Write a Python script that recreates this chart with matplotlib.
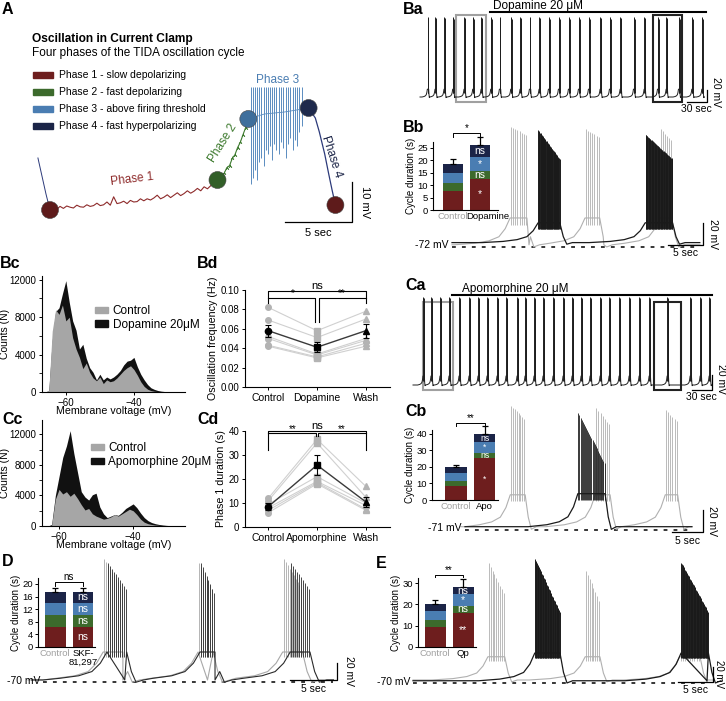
import numpy as np
import matplotlib
matplotlib.use('Agg')
import matplotlib.pyplot as plt
from matplotlib.patches import Patch, Rectangle
from matplotlib.ticker import FormatStrFormatter, MultipleLocator

plt.rcParams['font.family'] = ['Liberation Sans', 'DejaVu Sans']
plt.rcParams['font.size'] = 7.5
plt.rcParams['axes.linewidth'] = 0.8
plt.rcParams['xtick.major.size'] = 2.5
plt.rcParams['ytick.major.size'] = 2.5
plt.rcParams['xtick.major.width'] = 0.7
plt.rcParams['ytick.major.width'] = 0.7
plt.rcParams['xtick.major.pad'] = 1.5
plt.rcParams['ytick.major.pad'] = 1.5

# ---------------- data ----------------
PHASE_LABELS = ['Phase 1 - slow depolarizing', 'Phase 2 - fast depolarizing',
                'Phase 3 - above firing threshold', 'Phase 4 - fast hyperpolarizing']
PHASE_COLORS = ['#6e1e1e', '#3c6a2c', '#4a7db2', '#1b2447']
DOT_COLORS = ['#5e1b1b', '#325f28', '#3f6f9c', '#1f2a4c', '#5e1b1b']

# panel A: one oscillation cycle (s, mV above the trough)
PRE_T = [-0.9, -0.6, -0.3, 0.0]
PRE_V = [13.0, 8.5, 4.0, 0.0]
P1_V = [0.0, 0.5, 0.2, 0.9, 0.4, 1.0, 0.7, 0.5, 1.2, 0.8,
        0.7, 1.3, 0.9, 1.1, 1.7, 1.1, 1.3, 2.0, 1.2, 3.3,
        1.6, 1.8, 2.2, 1.6, 2.4, 2.0, 2.1, 2.8, 2.3, 2.8,
        2.5, 3.0, 3.7, 2.8, 3.2, 3.8, 3.1, 3.7, 4.3, 3.6,
        4.1, 4.8, 4.2, 4.7, 5.4, 4.8, 5.8, 5.3, 6.1, 6.8, 7.5]
P2_T = [12.5, 12.75, 13.0, 13.2, 13.4, 13.6, 13.8, 14.0, 14.2, 14.4, 14.6, 14.8]
P2_V = [7.5, 8.8, 9.2, 10.6, 11.1, 12.9, 13.8, 15.6, 16.9, 18.8, 20.6, 22.75]
P3_SPIKE_T = [15.0, 15.15, 15.3, 15.45, 15.6, 15.75, 15.95, 16.1, 16.25, 16.4, 16.6, 16.75,
              16.9, 17.1, 17.25, 17.4, 17.6, 17.75, 17.9, 18.1, 18.25, 18.45, 18.6, 18.8]
P3_TROUGH = [6.5, 8, 10, 7.5, 12, 13, 11, 15, 14, 16, 12.5, 16.5,
             15, 14, 17, 15.5, 13, 16.5, 18, 15, 17.5, 16, 19.5, 21]
P3_PEAK = 30.75
P3_BASE_T = [14.8, 16.0, 17.5, 19.3]
P3_BASE_V = [22.75, 24.0, 24.5, 25.5]
P4_T = [19.3, 19.8, 20.1, 20.5, 20.8, 21.05, 21.3]
P4_V = [25.5, 23.0, 19.5, 14.0, 9.0, 5.0, 1.25]
DOT_T = [0.0, 12.5, 14.8, 19.3, 21.3]
DOT_V = [0.0, 7.5, 22.75, 25.5, 1.25]

# Bc / Cc histograms (membrane voltage mV, counts)
BC_MV = list(range(-67, -24))
BC_CTRL = [0, 0, 200, 6500, 8800, 8300, 9300, 7600, 8000, 5800,
           4600, 3700, 2500, 3100, 2100, 1500, 1200, 1600, 900, 1300,
           1100, 1200, 1500, 1900, 2300, 2600, 2800, 2400, 1800, 1100,
           600, 300, 150, 80, 40, 20, 10, 0, 0, 0, 0, 0, 0]
BC_DA = [0, 0, 150, 5500, 8600, 9000, 10500, 11900, 9600, 7600,
         6600, 4600, 5100, 3600, 2600, 2100, 1300, 1900, 1300, 1600,
         1400, 1600, 1900, 2300, 2900, 3300, 3400, 3700, 2700, 1900,
         1300, 800, 450, 280, 160, 90, 50, 25, 10, 0, 0, 0, 0]
CC_MV = list(range(-65, -25))
CC_CTRL = [0, 0, 0, 100, 3500, 4800, 4200, 4500, 3900, 4300,
           3600, 2800, 2100, 2300, 1600, 1300, 1100, 900, 1000, 1200,
           1500, 1300, 1600, 1900, 2200, 2000, 1500, 900, 500, 300,
           200, 120, 80, 50, 30, 20, 10, 0, 0, 0]
CC_APO = [0, 0, 0, 200, 4000, 6500, 9000, 10500, 12500, 9500,
          7000, 4500, 3800, 3400, 4100, 4300, 2500, 1600, 1100, 1300,
          1500, 1400, 1800, 2300, 2600, 2900, 2400, 1700, 1100, 700,
          450, 300, 200, 130, 80, 50, 30, 15, 5, 0]

# Bd: oscillation frequency (Hz), six cells
BD_CATS = ['Control', 'Dopamine', 'Wash']
BD_CTRL = [0.082, 0.069, 0.052, 0.050, 0.043, 0.042]
BD_DA = [0.058, 0.051, 0.034, 0.033, 0.031, 0.030]
BD_WASH = [0.078, 0.070, 0.050, 0.048, 0.045, 0.042]
BD_MEAN = [0.058, 0.041, 0.058]
BD_SEM = [0.006, 0.005, 0.007]

# Cd: phase 1 duration (s)
CD_CATS = ['Control', 'Apomorphine', 'Wash']
CD_CTRL = [12.0, 11.0, 9.5, 8.0, 7.0, 6.0]
CD_APO = [36.5, 35.0, 21.0, 19.0, 18.5, 18.0]
CD_WASH = [17.0, 12.5, 10.0, 9.0, 7.5, 7.0]
CD_MEAN = [8.5, 25.8, 10.5]
CD_SEM = [1.5, 4.0, 2.0]

# stacked cycle durations (phase 1..4, s)
BB_CTRL = [7.7, 3.1, 4.0, 3.6]
BB_DRUG = [12.5, 3.2, 5.8, 4.7]
BB_ERR = [2.2, 3.3]
BB_MARKS = ['*', 'ns', '*', 'ns']
CB_CTRL = [8.5, 3.0, 5.1, 3.2]
CB_DRUG = [25.3, 3.4, 6.3, 5.0]
CB_ERR = [1.4, 4.8]
CB_MARKS = ['*', 'ns', '*', 'ns']
D_CTRL = [6.4, 3.8, 3.9, 3.5]
D_DRUG = [6.5, 3.7, 3.9, 3.5]
D_ERR = [1.1, 1.1]
D_MARKS = ['ns', 'ns', 'ns', 'ns']
E_CTRL = [9.2, 3.5, 4.2, 3.1]
E_DRUG = [16.1, 3.1, 5.5, 3.6]
E_ERR = [2.0, 3.5]
E_MARKS = ['**', 'ns', '*', 'ns']

# long recordings: burst onsets (s)
BA_BURSTS = [11, 22.5, 36, 49, 66, 79, 91.5, 106, 119, 136, 150, 164, 178.5, 192.5,
             207.5, 222.5, 237.5, 252.5, 270, 284, 300, 320, 336, 356, 369, 387.5, 407.5, 422.5]
CA_BURSTS = [15, 27, 40.5, 54, 69, 84, 97.5, 111, 126, 139.5, 156, 168, 181.5, 195,
             210, 225, 238.5, 252, 265.5, 280.5, 294, 309, 324, 339, 354, 381, 415.5, 430.5, 444]

# overlaid traces: (onset s, duration s, spikes, first peak mV, last peak mV)
BB_GRAY = [(8.3, 2.4, 8, 37, 30), (19.0, 2.1, 7, 35, 28), (29.7, 1.7, 6, 35, 25)]
BB_BLACK = [(12.3, 3.1, 40, 34, 8), (27.6, 3.9, 45, 30, 8)]
CB_GRAY = [(7.3, 2.4, 8, 42, 30), (21.0, 2.4, 7, 40, 25), (32.3, 2.0, 6, 38, 28)]
CB_BLACK = [(18.2, 4.4, 25, 35, -10)]
D_GRAY = [(6.4, 2.1, 10, 75, 40), (16.5, 1.6, 8, 70, 40), (25.5, 2.1, 10, 75, 40)]
D_BLACK = [(6.8, 2.1, 10, 70, 40), (16.7, 1.6, 8, 70, 35), (26.3, 2.1, 10, 70, 40)]
E_GRAY = [(10.7, 2.4, 9, 90, 50), (24.6, 2.1, 8, 80, 40), (38.1, 2.9, 9, 85, 45)]
E_BLACK = [(17.4, 3.6, 40, 95, 25), (38.3, 3.9, 45, 90, 25)]

# shape of one depolarization (fraction of plateau height)
RAMP_T = [-8.0, -5.0, -3.0, -1.6, -0.7, 0.0]
RAMP_F = [0.0, 0.06, 0.15, 0.3, 0.6, 1.0]
FALL_T = [0.0, 0.5, 1.0, 1.8]
FALL_F = [1.0, 0.3, -0.08, 0.0]

# ---------------- figure ----------------
W, H = 726, 701
fig = plt.figure(figsize=(W / 100, H / 100), dpi=100)


def px_axes(x0, y0, x1, y1):
    return fig.add_axes([x0 / W, 1 - y1 / H, (x1 - x0) / W, (y1 - y0) / H])


def ftext(x, y, s, **kw):
    fig.text(x / W, 1 - y / H, s, **kw)


def panel_label(x, y, s):
    ftext(x, y, s, fontsize=11.5, fontweight='bold', ha='left', va='center')


def blank(ax):
    ax.set_axis_off()


def trace(ax, t_end, bursts, base, plat, color, lw=0.7, slw=0.5):
    ts, vs = [0.0], [base]
    st, slo, shi = [], [], []
    for on, dur, n, pk0, pk1 in bursts:
        for rt, rf in zip(RAMP_T, RAMP_F):
            ts.append(on + rt)
            vs.append(base + rf * (plat - base))
        for ft, ff in zip(FALL_T, FALL_F):
            ts.append(on + dur + ft)
            vs.append(base + ff * (plat - base))
        k = np.arange(n)
        st += list(on + dur * (k + 0.5) / n)
        shi += list(np.linspace(pk0, pk1, n))
        slo += [plat - 6] * n
    ts.append(t_end)
    vs.append(base)
    ts, vs = np.array(ts), np.array(vs)
    order = np.argsort(ts, kind='stable')
    ax.plot(ts[order], vs[order], color=color, lw=lw)
    ax.vlines(st, slo, shi, color=color, lw=slw)


def scale_bar(ax, x1, y0, dx, dy):
    ax.plot([x1 - dx, x1, x1], [y0, y0, y0 + dy], color='black', lw=0.9, clip_on=False)


def stacked_inset(ax, ctrl, drug, errs, marks, xlabels, ylim, yticks, sig, sig_y, leg,
                  drug_dx=0.0, mark_size=7.5):
    for i, segs in enumerate([ctrl, drug]):
        bottom = 0
        for seg, c in zip(segs, PHASE_COLORS):
            ax.bar(i, seg, 0.75, bottom=bottom, color=c, lw=0)
            bottom += seg
        ax.errorbar(i, bottom, yerr=[[0], [errs[i]]], color='black', lw=0.9,
                    capsize=2, capthick=0.9, clip_on=False)
    bottom = 0
    for seg, m in zip(drug, marks):
        ax.text(1, bottom + seg / 2, m, color='white', ha='center', va='center', fontsize=mark_size)
        bottom += seg
    ax.plot([0, 0, 1, 1], [sig_y - leg, sig_y, sig_y, sig_y - leg], color='black', lw=0.7,
            clip_on=False)
    ax.text(0.5, sig_y, sig, ha='center', va='bottom', fontsize=7)
    ax.set_ylim(ylim)
    ax.set_yticks(yticks)
    ax.tick_params(axis='y', labelsize=6.8, length=2)
    ax.set_xticks([])
    tr = ax.get_xaxis_transform()
    ax.text(0, -0.03, xlabels[0], transform=tr, ha='center', va='top', fontsize=6.8, color='#a0a0a0')
    ax.text(1 + drug_dx, -0.03, xlabels[1], transform=tr, ha='center', va='top', fontsize=6.8,
            linespacing=1.0)
    ax.spines['top'].set_visible(False)
    ax.spines['right'].set_visible(False)
    ax.set_ylabel('Cycle duration (s)', fontsize=7, labelpad=1)
    ax.set_facecolor('none')


# ---------- A ----------
panel_label(2, 9, 'A')
ftext(32, 39, 'Oscillation in Current Clamp', fontsize=8.6, fontweight='bold', va='center')
ftext(32, 53, 'Four phases of the TIDA oscillation cycle', fontsize=8.5, va='center')
axA = px_axes(15, 75, 365, 232)
blank(axA)
axA.set_xlim((15 - 50) / 13.4, (365 - 50) / 13.4)
axA.set_ylim((210 - 232) / 4, (210 - 75) / 4)
axA.plot(PRE_T, PRE_V, color='#2c3a7a', lw=0.7)
axA.plot(np.linspace(0, 12.5, len(P1_V)), P1_V, color='#8e2b2b', lw=0.8)
axA.plot(P2_T, P2_V, color='#3d7a2e', lw=0.8, marker=(3, 2, 0), markersize=2.5, markeredgewidth=0.5)
axA.plot(P3_BASE_T, P3_BASE_V, color='#5a8cc0', lw=0.6)
axA.vlines(P3_SPIKE_T, P3_TROUGH, P3_PEAK, color='#5a8cc0', lw=0.7)
axA.plot(P4_T, P4_V, color='#2c3a7a', lw=0.9)
axA.scatter(DOT_T, DOT_V, s=150, c=DOT_COLORS, edgecolors='#444', linewidths=0.4, zorder=5)
axA.text(6.1, 7.6, 'Phase 1', color='#8e2b2b', fontsize=8.5, rotation=7, ha='center', va='center')
axA.text(12.9, 16.8, 'Phase 2', color='#3d7a2e', fontsize=8.5, rotation=58, ha='center', va='center')
axA.text(17.0, 32.4, 'Phase 3', color='#4a7db2', fontsize=8.5, ha='center', va='center')
axA.text(21.0, 13.3, 'Phase 4', color='#1b2447', fontsize=8.5, rotation=-72, ha='center', va='center')
scale_bar(axA, 22.5, -3.0, 5, 10)
axA.text(20.0, -4.5, '5 sec', fontsize=8, ha='center', va='top')
axA.text(23.1, 2.0, '10 mV', fontsize=8, rotation=270, ha='left', va='center')
for i, (lab, c) in enumerate(zip(PHASE_LABELS, PHASE_COLORS)):
    yy = 75 + i * 17
    fig.patches.append(Rectangle((33 / W, 1 - (yy + 3) / H), 20 / W, 6 / H, color=c,
                                 transform=fig.transFigure))
    ftext(59, yy, lab, fontsize=7.5, va='center')

# ---------- Ba ----------
panel_label(403, 9, 'Ba')
axBa = px_axes(418, 5, 718, 110)
blank(axBa)
axBa.set_xlim((418 - 420) / 0.667, (718 - 420) / 0.667)
axBa.set_ylim(-70 - (110 - 97) / 0.6, -70 + (97 - 5) / 0.6)
trace(axBa, (704 - 420) / 0.667, [(b, 2.0, 3, 63, 60) for b in BA_BURSTS], -70, -57, '#1e1e1e', lw=0.7, slw=0.7)
axBa.plot([105, 429], [71.7, 71.7], color='black', lw=1.5)
axBa.text(110, 81.0, 'Dopamine 20 μM', fontsize=8.5, ha='left', va='center')
axBa.add_patch(Rectangle((54, -78.3), 45, 145, fill=False, edgecolor='#a0a0a0', lw=1.5))
axBa.add_patch(Rectangle((349.5, -78.3), 43.5, 145, fill=False, edgecolor='#222', lw=1.5))
scale_bar(axBa, 430, -78.3, 30, 20)
axBa.text(415, -81, '30 sec', fontsize=7.5, ha='center', va='top')
axBa.text(437, -62, '20 mV', fontsize=7.5, rotation=270, ha='left', va='center')

# ---------- Bb ----------
panel_label(403, 127, 'Bb')
axBbt = px_axes(418, 118, 718, 262)
blank(axBbt)
axBbt.set_xlim((418 - 452) / 7, (718 - 452) / 7)
axBbt.set_ylim(-72 - (262 - 247) / 1.1, -72 + (247 - 118) / 1.1)
axBbt.plot([0, 35.4], [-72, -72], color='black', lw=1.1, ls=(0, (2.5, 4)))
trace(axBbt, 35.4, BB_GRAY, -70, -45.6, '#b0b0b0', lw=0.8, slw=0.6)
trace(axBbt, 35.4, BB_BLACK, -68, -50, '#1a1a1a', lw=0.9, slw=0.7)
axBbt.text(-0.5, -70.5, '-72 mV', fontsize=7.5, ha='right', va='center')
scale_bar(axBbt, 35.9, -70, 5, 20)
axBbt.text(33.4, -73, '5 sec', fontsize=7.5, ha='center', va='top')
axBbt.text(36.6, -60, '20 mV', fontsize=7.5, rotation=270, ha='left', va='center')
axBb = px_axes(433, 142, 498, 210)
axBb.set_xlim(-0.74, 1.67)
stacked_inset(axBb, BB_CTRL, BB_DRUG, BB_ERR, BB_MARKS, ['Control', 'Dopamine'],
              (0, 27.4), [0, 5, 10, 15, 20, 25], '*', 31.0, 1.6, drug_dx=0.3)

# ---------- Bc ----------
panel_label(0, 263, 'Bc')
axBc = px_axes(42, 276, 185, 392)
axBc.fill_between(BC_MV, 0, BC_DA, color='#111111', lw=0)
axBc.fill_between(BC_MV, 0, BC_CTRL, color='#a6a6a6', lw=0)
axBc.set_xlim(-67, -25)
axBc.set_ylim(0, 12400)
axBc.set_yticks([0, 4000, 8000, 12000])
axBc.yaxis.set_minor_locator(MultipleLocator(2000))
axBc.set_xticks([-60, -40])
axBc.tick_params(labelsize=7)
axBc.set_xlabel('Membrane voltage (mV)', fontsize=7.7, labelpad=-1)
axBc.set_ylabel('Counts (N)', fontsize=7.5, labelpad=0)
axBc.spines['top'].set_visible(False)
axBc.spines['right'].set_visible(False)
axBc.legend([Patch(color='#a6a6a6'), Patch(color='#111111')], ['Control', 'Dopamine 20μM'],
            loc='upper left', bbox_to_anchor=(0.37, 0.75), frameon=False, fontsize=8.5,
            handlelength=1.1, handleheight=0.45, labelspacing=0.15, handletextpad=0.4,
            borderpad=0, borderaxespad=0)

# ---------- Bd ----------
panel_label(197, 263, 'Bd')


def paired(ax, cats, a, b, c, mean, sem):
    for i in range(len(a)):
        ax.plot([0, 1, 2], [a[i], b[i], c[i]], color='#d0d0d0', lw=0.8)
    for x, vals, m in zip([0, 1, 2], [a, b, c], ['o', 's', '^']):
        ax.plot([x] * len(vals), vals, ls='none', marker=m, color='#b3b3b3', markersize=4)
    ax.plot([0, 1, 2], mean, color='#3a3a3a', lw=1.0)
    for x, mu, se, m in zip([0, 1, 2], mean, sem, ['o', 's', '^']):
        ax.errorbar(x, mu, yerr=se, color='black', marker=m, markersize=4.5, capsize=2,
                    lw=0.8, capthick=0.8)
    ax.set_xticks([0, 1, 2])
    ax.set_xticklabels(cats, fontsize=7.5)
    ax.tick_params(axis='y', labelsize=7)
    ax.set_xlim(-0.48, 2.5)
    ax.spines['top'].set_visible(False)
    ax.spines['right'].set_visible(False)


axBd = px_axes(245, 290, 390, 387)
paired(axBd, BD_CATS, BD_CTRL, BD_DA, BD_WASH, BD_MEAN, BD_SEM)
axBd.set_ylim(0, 0.1)
axBd.set_yticks([0, 0.02, 0.04, 0.06, 0.08, 0.10])
axBd.yaxis.set_major_formatter(FormatStrFormatter('%.2f'))
axBd.set_ylabel('Oscillation frequency (Hz)', fontsize=7.7, labelpad=2)
kw = dict(color='black', lw=0.8, clip_on=False)
axBd.plot([0, 0, 2, 2], [0.0866, 0.0987, 0.0987, 0.0866], **kw)
axBd.plot([0, 0.96, 0.96], [0.0917, 0.0917, 0.0674], **kw)
axBd.plot([2, 1.04, 1.04], [0.0917, 0.0917, 0.0674], **kw)
axBd.text(1, 0.0985, 'ns', ha='center', va='bottom', fontsize=8)
axBd.text(0.5, 0.0915, '*', ha='center', va='bottom', fontsize=7)
axBd.text(1.5, 0.0915, '**', ha='center', va='bottom', fontsize=7)

# ---------- Ca ----------
panel_label(405, 285, 'Ca')
axCa = px_axes(410, 280, 718, 400)
blank(axCa)
axCa.set_xlim((410 - 413) / 0.667, (718 - 413) / 0.667)
axCa.set_ylim(-70 - (400 - 385) / 0.75, -70 + (385 - 280) / 0.75)
trace(axCa, (712 - 413) / 0.667, [(b, 2.0, 3, 47, 44) for b in CA_BURSTS], -70, -58, '#1e1e1e', lw=0.7, slw=0.7)
axCa.plot([58.5, 448], [50.0, 50.0], color='black', lw=1.5)
axCa.text(73, 58, 'Apomorphine 20 μM', fontsize=8.5, ha='left', va='center')
axCa.add_patch(Rectangle((15, -76.7), 45, 117.3, fill=False, edgecolor='#a0a0a0', lw=1.5))
axCa.add_patch(Rectangle((361, -76.7), 40.5, 117.3, fill=False, edgecolor='#222', lw=1.5))
scale_bar(axCa, 448, -76.7, 30, 20)
axCa.text(433, -80, '30 sec', fontsize=7.5, ha='center', va='top')
axCa.text(454, -62, '20 mV', fontsize=7.5, rotation=270, ha='left', va='center')

# ---------- Cb ----------
panel_label(405, 411, 'Cb')
axCbt = px_axes(418, 405, 718, 548)
blank(axCbt)
axCbt.set_xlim((418 - 465) / 6.2, (718 - 465) / 6.2)
axCbt.set_ylim(-71 - (548 - 530) / 1.1, -71 + (530 - 405) / 1.1)
axCbt.plot([0, 36.6], [-71, -71], color='black', lw=1.1, ls=(0, (2.5, 4)))
trace(axCbt, 36.6, CB_GRAY, -68, -39, '#b0b0b0', lw=0.8, slw=0.6)
trace(axCbt, 36.6, CB_BLACK, -68, -38, '#1a1a1a', lw=0.9, slw=0.6)
axCbt.text(-0.5, -69.5, '-71 mV', fontsize=7.5, ha='right', va='center')
scale_bar(axCbt, 38.4, -72.8, 5, 20)
axCbt.text(35.9, -76, '5 sec', fontsize=7.5, ha='center', va='top')
axCbt.text(39.1, -63, '20 mV', fontsize=7.5, rotation=270, ha='left', va='center')
axCb = px_axes(432, 430, 498, 500)
axCb.set_xlim(-0.84, 1.47)
stacked_inset(axCb, CB_CTRL, CB_DRUG, CB_ERR, CB_MARKS, ['Control', 'Apo'],
              (0, 42.4), [0, 10, 20, 30, 40], '**', 46.5, 1.7, mark_size=6.2)

# ---------- Cc ----------
panel_label(2, 419, 'Cc')
axCc = px_axes(42, 420, 185, 526)
axCc.fill_between(CC_MV, 0, CC_APO, color='#111111', lw=0)
axCc.fill_between(CC_MV, 0, CC_CTRL, color='#a6a6a6', lw=0)
axCc.set_xlim(-64.6, -26)
axCc.set_ylim(0, 13900)
axCc.set_yticks([0, 4000, 8000, 12000])
axCc.yaxis.set_minor_locator(MultipleLocator(2000))
axCc.set_xticks([-60, -40])
axCc.tick_params(labelsize=7)
axCc.set_xlabel('Membrane voltage (mV)', fontsize=7.7, labelpad=-1)
axCc.set_ylabel('Counts (N)', fontsize=7.5, labelpad=0)
axCc.spines['top'].set_visible(False)
axCc.spines['right'].set_visible(False)
axCc.legend([Patch(color='#a6a6a6'), Patch(color='#111111')], ['Control', 'Apomorphine 20μM'],
            loc='upper left', bbox_to_anchor=(0.34, 0.79), frameon=False, fontsize=8.5,
            handlelength=1.1, handleheight=0.45, labelspacing=0.15, handletextpad=0.4,
            borderpad=0, borderaxespad=0)

# ---------- Cd ----------
panel_label(197, 419, 'Cd')
axCd = px_axes(245, 431, 390, 527)
paired(axCd, CD_CATS, CD_CTRL, CD_APO, CD_WASH, CD_MEAN, CD_SEM)
axCd.set_ylim(0, 40)
axCd.set_yticks([0, 10, 20, 30, 40])
axCd.set_ylabel('Phase 1 duration (s)', fontsize=7.7, labelpad=2)
axCd.plot([0, 0, 2, 2], [32, 40, 40, 32], **kw)
axCd.plot([0, 0.97, 0.97], [39.0, 39.0, 37.8], **kw)
axCd.plot([2, 1.03, 1.03], [39.0, 39.0, 37.8], **kw)
axCd.text(1, 40.1, 'ns', ha='center', va='bottom', fontsize=8)
axCd.text(0.5, 38.7, '**', ha='center', va='bottom', fontsize=7)
axCd.text(1.5, 38.7, '**', ha='center', va='bottom', fontsize=7)

# ---------- D ----------
panel_label(2, 562, 'D')
axDt = px_axes(0, 555, 355, 700)
blank(axDt)
axDt.set_xlim((0 - 43) / 9.4, (355 - 43) / 9.4)
axDt.set_ylim(-70 - (700 - 682) / 0.85, -70 + (682 - 555) / 0.85)
axDt.plot([0, 30.9], [-70, -70], color='black', lw=1.1, ls=(0, (2.5, 4)))
trace(axDt, 30.9, D_GRAY, -67.6, -34.7, '#a8a8a8', lw=0.8, slw=0.6)
trace(axDt, 30.9, D_BLACK, -67.6, -34.7, '#2a2a2a', lw=0.8, slw=0.6)
axDt.text(-0.3, -69, '-70 mV', fontsize=7.5, ha='right', va='center')
scale_bar(axDt, 31.3, -67.6, 5, 20)
axDt.text(28.8, -72, '5 sec', fontsize=7.5, ha='center', va='top')
axDt.text(32.0, -57, '20 mV', fontsize=7.5, rotation=270, ha='left', va='center')
axD = px_axes(38, 578, 95, 647)
axD.set_xlim(-0.61, 1.43)
stacked_inset(axD, D_CTRL, D_DRUG, D_ERR, D_MARKS, ['Control', 'SKF-\n81,297'],
              (0, 21.9), [0, 4, 8, 12, 16, 20], 'ns', 20.6, 1.2)

# ---------- E ----------
panel_label(376, 563, 'E')
axEt = px_axes(400, 555, 726, 700)
blank(axEt)
axEt.set_xlim((400 - 413) / 7, (726 - 413) / 7)
axEt.set_ylim(-70 - (700 - 683) / 0.75, -70 + (683 - 555) / 0.75)
axEt.plot([0, 42.0], [-70, -70], color='black', lw=1.1, ls=(0, (2.5, 4)))
trace(axEt, 42.0, E_GRAY, -66, -35, '#b0b0b0', lw=0.8, slw=0.6)
trace(axEt, 42.0, E_BLACK, -67, -30, '#1a1a1a', lw=0.9, slw=0.7)
axEt.text(-0.4, -69, '-70 mV', fontsize=7.5, ha='right', va='center')
scale_bar(axEt, 42.9, -69, 5, 20)
axEt.text(40.4, -73, '5 sec', fontsize=7.5, ha='center', va='top')
axEt.text(43.0, -58, '20 mV', fontsize=7, rotation=270, ha='left', va='center')
axE = px_axes(418, 578, 476, 647)
axE.set_xlim(-0.61, 1.46)
stacked_inset(axE, E_CTRL, E_DRUG, E_ERR, E_MARKS, ['Control', 'Qp'],
              (0, 32.4), [0, 10, 20, 30], '**', 33.8, 1.1)

fig.savefig('out.png', dpi=100, facecolor='white')
